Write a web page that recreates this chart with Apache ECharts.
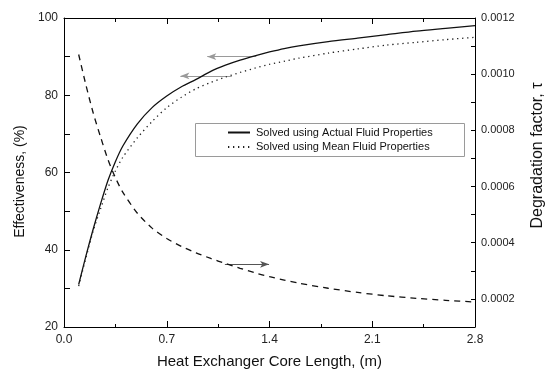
<!DOCTYPE html>
<html>
<head>
<meta charset="utf-8">
<script src="https://cdn.jsdelivr.net/npm/echarts@6/dist/echarts.min.js"></script>
<style>
  html, body { margin: 0; padding: 0; background: #fff; }
  #chart { width: 554px; height: 374px; }
</style>
</head>
<body>
<div id="chart"></div>
<script>
// Core length (m)
const coreLength = [0.1, 0.15, 0.2, 0.25, 0.3, 0.35, 0.4, 0.5, 0.6, 0.7, 0.8, 0.9, 1.0,
  1.1, 1.2, 1.3, 1.4, 1.5, 1.6, 1.8, 2.0, 2.2, 2.4, 2.6, 2.8];

// Effectiveness (%) solved with actual fluid properties
const effActual = [31.0, 38.5, 45.5, 52.0, 58.0, 62.8, 66.8, 72.6, 76.8, 79.8, 82.2, 84.1, 86.2,
  87.8, 89.1, 90.2, 91.2, 92.1, 92.8, 93.9, 94.8, 95.7, 96.6, 97.3, 98.0];

// Effectiveness (%) solved with mean fluid properties
const effMean = [30.6, 38.0, 45.0, 50.7, 56.1, 60.4, 63.9, 69.0, 73.2, 76.8, 79.5, 81.7, 83.3,
  84.7, 85.9, 87.0, 88.0, 88.8, 89.6, 90.9, 92.0, 93.0, 93.7, 94.4, 95.0];

// Degradation factor, tau
const degradation = [0.001070, 0.000960, 0.000860, 0.000775, 0.000695, 0.000632, 0.000580,
  0.000505, 0.000452, 0.000415, 0.000387, 0.000364, 0.000344, 0.000326, 0.000309, 0.000293,
  0.000279, 0.000267, 0.000256, 0.000238, 0.000223, 0.000211, 0.000202, 0.000195, 0.000189];

// Axis ranges
const xRange = [0, 2.8];
const leftRange = [20, 100];
const rightRange = [0.0001, 0.0012];

// Annotation arrows: [from, to] in data units
const arrowActual = [[1.31, 90.0], [0.976, 90.0]];
const arrowMean = [[1.143, 85.0], [0.793, 85.0]];
const arrowTau = [[1.096, 0.000323], [1.397, 0.000323]];

const seriesNames = ['Solved using Actual Fluid Properties', 'Solved using Mean Fluid Properties'];

const pairs = (xs, ys) => xs.map((x, i) => [x, ys[i]]);
const arrowLine = (a, col) => ({
  silent: true,
  animation: false,
  symbol: ['none', 'arrow'],
  symbolSize: [5, 9],
  label: { show: false },
  lineStyle: { color: col, width: 1, type: 'solid' },
  emphasis: { disabled: true },
  data: [[
    { coord: a[0] },
    { coord: a[1], itemStyle: { color: '#222' } }
  ]]
});

const FONT = 'Liberation Sans, Arial, Helvetica, sans-serif';
const chart = echarts.init(document.getElementById('chart'), null, { renderer: 'canvas' });

chart.setOption({
  animation: false,
  backgroundColor: '#fff',
  textStyle: { fontFamily: FONT, color: '#111' },
  grid: { left: 64, right: 71, top: 18, bottom: 47, containLabel: false },
  graphic: [{
    type: 'rect',
    shape: { x: 195.5, y: 123.5, width: 269, height: 33 },
    style: { fill: '#fff', stroke: '#9a9a9a', lineWidth: 1 },
    z: 1
  }],
  legend: {
    data: seriesNames,
    orient: 'vertical',
    left: 227,
    top: 127,
    padding: 0,
    itemWidth: 22,
    itemHeight: 8,
    itemGap: 3.5,
    z: 10,
    selectedMode: false,
    itemStyle: { opacity: 0 },
    textStyle: { fontFamily: FONT, fontSize: 11, color: '#111', padding: [0, 0, 0, 1] }
  },
  xAxis: [{
    type: 'value',
    position: 'bottom',
    min: xRange[0], max: xRange[1], interval: 0.7,
    name: 'Heat Exchanger Core Length, (m)',
    nameLocation: 'middle', nameGap: 27,
    nameTextStyle: { fontSize: 15, color: '#111' },
    axisLine: { show: true, onZero: false, lineStyle: { color: '#000', width: 1 } },
    axisTick: { show: true, inside: true, length: 6, lineStyle: { color: '#000' } },
    minorTick: { show: true, splitNumber: 2, length: 3, lineStyle: { color: '#000' } },
    axisLabel: { fontSize: 12, color: '#222', margin: 7, formatter: v => v.toFixed(1) },
    splitLine: { show: false }
  }, {
    type: 'value',
    position: 'top',
    min: xRange[0], max: xRange[1], interval: 0.7,
    axisLine: { show: true, onZero: false, lineStyle: { color: '#000', width: 1 } },
    axisTick: { show: true, inside: true, length: 6, lineStyle: { color: '#000' } },
    minorTick: { show: true, splitNumber: 2, length: 4, lineStyle: { color: '#000' } },
    axisLabel: { show: false },
    splitLine: { show: false }
  }],
  yAxis: [{
    type: 'value',
    position: 'left',
    min: leftRange[0], max: leftRange[1], interval: 10,
    name: 'Effectiveness, (%)',
    nameLocation: 'middle', nameGap: 34,
    nameTextStyle: { fontSize: 14, color: '#111', padding: [0, 18, 0, 0] },
    axisLine: { show: true, onZero: false, lineStyle: { color: '#000', width: 1 } },
    axisTick: { show: true, inside: true, length: 6, lineStyle: { color: '#000' } },
    axisLabel: { fontSize: 12, color: '#222', margin: 6,
      formatter: v => (Math.round(v) % 20 === 0 ? String(Math.round(v)) : '') },
    splitLine: { show: false }
  }, {
    type: 'value',
    position: 'right',
    min: rightRange[0], max: rightRange[1], interval: 0.0001,
    name: 'Degradation factor, \u03c4',
    nameLocation: 'middle', nameGap: 55,
    nameTextStyle: { fontSize: 16, color: '#111', padding: [0, 0, 0, 34] },
    axisLine: { show: true, onZero: false, lineStyle: { color: '#000', width: 1 } },
    axisTick: { show: true, inside: true, length: 4, lineStyle: { color: '#000' } },
    axisLabel: { fontSize: 11, color: '#222', margin: 6,
      formatter: v => (Math.round(v * 10000) % 2 === 0 ? v.toFixed(4) : '') },
    splitLine: { show: false }
  }],
  series: [{
    name: seriesNames[0],
    type: 'line',
    xAxisIndex: 0, yAxisIndex: 0,
    data: pairs(coreLength, effActual),
    smooth: 0.25,
    symbol: 'none',
    z: 5,
    lineStyle: { color: '#111', width: 1.3, type: 'solid' },
    itemStyle: { color: '#111' },
    markLine: arrowLine(arrowActual, '#9a9a9a')
  }, {
    name: seriesNames[1],
    type: 'line',
    xAxisIndex: 0, yAxisIndex: 0,
    data: pairs(coreLength, effMean),
    smooth: 0.25,
    symbol: 'none',
    z: 5,
    lineStyle: { color: '#222', width: 1.3, type: [1.3, 3.7] },
    itemStyle: { color: '#222' },
    markLine: arrowLine(arrowMean, '#9a9a9a')
  }, {
    name: 'Degradation factor',
    type: 'line',
    xAxisIndex: 0, yAxisIndex: 1,
    data: pairs(coreLength, degradation),
    smooth: 0.25,
    symbol: 'none',
    z: 5,
    lineStyle: { color: '#111', width: 1.3, type: [6, 5] },
    itemStyle: { color: '#111' },
    markLine: arrowLine(arrowTau, '#555')
  }]
});
</script>
</body>
</html>
